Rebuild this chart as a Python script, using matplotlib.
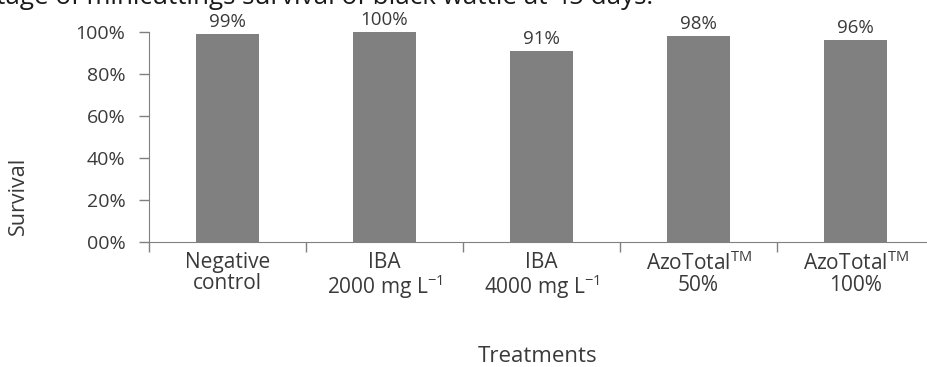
import matplotlib
matplotlib.use("Agg")
import matplotlib.pyplot as plt
from matplotlib.ticker import FuncFormatter

# data
treatments = ["Negative\ncontrol", "IBA\n2000 mg L$^{-1}$", "IBA\n4000 mg L$^{-1}$",
              "AzoTotal$^{\\mathrm{TM}}$\n50%", "AzoTotal$^{\\mathrm{TM}}$\n100%"]
survival = [0.99, 1.00, 0.91, 0.98, 0.96]
bar_labels = ["99%", "100%", "91%", "98%", "96%"]
yticks = [0.0, 0.2, 0.4, 0.6, 0.8, 1.0]

plt.rcParams['font.family'] = ['Open Sans', 'DejaVu Sans']
plt.rcParams['mathtext.fontset'] = 'custom'
plt.rcParams['mathtext.rm'] = 'Open Sans'
txt = '#3a3a3a'

W, H = 928, 367
fig = plt.figure(figsize=(W / 100, H / 100), dpi=100)
ax = fig.add_axes([149 / W, 1 - 242 / H, (934 - 149) / W, (242 - 32) / H])

x = list(range(len(survival)))
ax.bar(x, survival, width=0.4, color='#808080')
for xi, v, lab in zip(x, survival, bar_labels):
    ax.text(xi, v + 0.015, lab, ha='center', va='bottom', fontsize=13.5, color=txt)

ax.set_xlim(-0.5, len(survival) - 0.5)
ax.set_ylim(0, 1.0)
ax.set_yticks(yticks)
ax.yaxis.set_major_formatter(FuncFormatter(lambda v, p: f"{int(round(v * 100)):02d}%"))
ax.tick_params(axis='y', length=7, width=1, color='#808080', labelsize=14,
               labelcolor=txt, pad=10)

# category ticks at boundaries, labels in centres
ax.set_xticks([i - 0.5 for i in range(len(survival) + 1)])
ax.set_xticklabels([])
ax.set_xticks(x, minor=True)
ax.set_xticklabels(treatments, minor=True, fontsize=15, color=txt, linespacing=1.0)
ax.tick_params(axis='x', which='major', length=7, width=1, color='#808080')
ax.tick_params(axis='x', which='minor', length=0, pad=7)

for s in ['top', 'right']:
    ax.spines[s].set_visible(False)
for s in ['left', 'bottom']:
    ax.spines[s].set_color('#808080')

fig.text(18 / W, 1 - 196 / H, "Survival", rotation=90, ha='center', va='center',
         fontsize=15.5, color=txt)
fig.text(538 / W, 1 - 356 / H, "Treatments", ha='center', va='center',
         fontsize=16, color=txt)
fig.text(653 / W, 1 - 4 / H, "Percentage of minicuttings survival of black wattle at 45 days.",
         ha='right', va='baseline', fontsize=18.7, color='#1a1a1a')

fig.savefig("out.png", dpi=100)
